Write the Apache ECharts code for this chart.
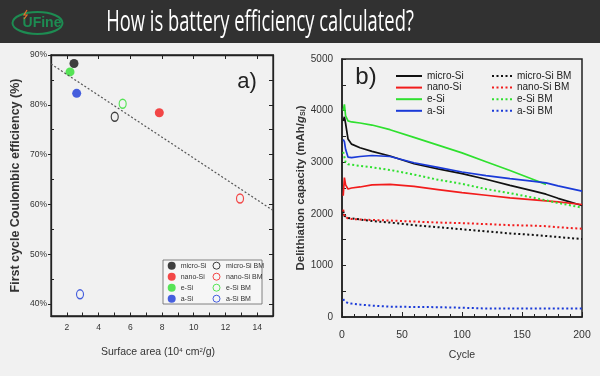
<!DOCTYPE html>
<html>
<head>
<meta charset="utf-8">
<script src="https://cdn.jsdelivr.net/npm/echarts@6/dist/echarts.min.js"></script>
<style>
  html, body { margin: 0; padding: 0; background: #f1f1f1; }
  #main { width: 600px; height: 376px; }
</style>
</head>
<body>
<div id="main"></div>
<script>
// panel a) first cycle efficiency vs surface area
const materials = ['micro-Si', 'nano-Si', 'e-Si', 'a-Si']
const colors = ['#111111', '#f21c1c', '#2fe02f', '#1a3ad8']
const surfaceArea = [2.45, 7.83, 2.2, 2.62]
const firstEff = [88.3, 78.4, 86.6, 82.3]
const surfaceAreaBM = [5.02, 12.92, 5.52, 2.83]
const firstEffBM = [77.6, 61.2, 80.2, 41.95]
const trendX = [1, 15]
const trendY = [88.2, 58.8]
const effTicks = [40, 50, 60, 70, 80, 90]

// panel b) delithiation capacity vs cycle
const cycles = [1, 2, 3, 5, 8, 15, 25, 40, 60, 80, 100, 120, 140, 160, 170, 180, 200]
const microSi = [3800, 3880, 3750, 3450, 3350, 3280, 3210, 3120, 2970, 2870, 2780, 2670, 2550, 2440, 2380, 2300, 2160]
const nanoSi = [2350, 2700, 2560, 2480, 2500, 2520, 2560, 2570, 2530, 2470, 2410, 2360, 2310, 2270, 2250, 2230, 2180]
const eSi = [4000, 4120, 3900, 3800, 3780, 3760, 3720, 3630, 3480, 3330, 3180, 3010, 2840, 2660, 2570, null, null]
const aSi = [3440, 3400, 3250, 3100, 3090, 3110, 3130, 3110, 2990, 2900, 2810, 2740, 2680, 2630, 2600, 2540, 2440]
const microSiBM = [2050, 1960, 1930, 1920, 1910, 1890, 1860, 1830, 1780, 1740, 1700, 1660, 1620, 1590, 1570, 1550, 1510]
const nanoSiBM = [2080, 1950, 1920, 1910, 1900, 1890, 1880, 1870, 1850, 1830, 1820, 1800, 1780, 1770, 1760, 1740, 1710]
const eSiBM = [3200, 3100, 3000, 2960, 2950, 2930, 2900, 2850, 2760, 2660, 2580, 2480, 2400, 2310, 2260, 2210, 2120]
const aSiBM = [350, 310, 290, 270, 260, 240, 220, 200, 195, 190, 180, 165, 165, 163, 163, 163, 163]

const chart = echarts.init(document.getElementById('main'))

const axisCol = '#222'
const pair = (xs, ys) => xs.map((x, i) => [x, ys[i]])

let series = []
// filled dots
materials.forEach((m, i) => {
  series.push({
    name: m, type: 'scatter', xAxisIndex: 0, yAxisIndex: 0,
    symbol: 'circle', symbolSize: 9,
    itemStyle: { color: colors[i] },
    data: [[surfaceArea[i], firstEff[i]]]
  })
})
// open circles
materials.forEach((m, i) => {
  series.push({
    name: m + ' BM', type: 'scatter', xAxisIndex: 0, yAxisIndex: 0,
    symbol: 'circle', symbolSize: [7, 9],
    itemStyle: { color: 'rgba(0,0,0,0)', borderColor: colors[i], borderWidth: 1.3 },
    data: [[surfaceAreaBM[i], firstEffBM[i]]]
  })
})
series.push({
  type: 'line', xAxisIndex: 0, yAxisIndex: 0, silent: true,
  symbol: 'none',
  lineStyle: { color: '#555', width: 1.2, type: [2, 2] },
  data: pair(trendX, trendY)
})

const solid = [microSi, nanoSi, eSi, aSi]
const dotted = [microSiBM, nanoSiBM, eSiBM, aSiBM]
// trailing space keeps panel b names apart from panel a legend entries
materials.forEach((m, i) => {
  series.push({
    name: m + ' ', type: 'line', xAxisIndex: 2, yAxisIndex: 3,
    symbol: 'none',
    lineStyle: { color: colors[i], width: 1.7 },
    itemStyle: { color: colors[i] },
    data: pair(cycles, solid[i])
  })
})
materials.forEach((m, i) => {
  series.push({
    name: m + ' BM ', type: 'line', xAxisIndex: 2, yAxisIndex: 3,
    symbol: 'none',
    lineStyle: { color: colors[i], width: 2, type: [2, 2.5] },
    itemStyle: { color: colors[i] },
    data: pair(cycles, dotted[i])
  })
})

const baseFont = 'Liberation Sans, Arial, sans-serif'
const narrowFont = 'Liberation Sans Narrow, Liberation Sans, Arial, sans-serif'

const option = {
  animation: false,
  backgroundColor: '#f1f1f1',
  textStyle: { fontFamily: baseFont },
  graphic: [
    { type: 'rect', shape: { x: 0, y: 0, width: 600, height: 43 }, style: { fill: '#313131' } },
    { type: 'ellipse', shape: { cx: 37.5, cy: 23, rx: 25, ry: 11 },
      style: { fill: 'none', stroke: '#1d8c52', lineWidth: 2 } },
    { type: 'text', x: 42, y: 23,
      style: { text: 'UFine', fill: '#1d8c52', font: 'bold 14px ' + baseFont, textAlign: 'center', textVerticalAlign: 'middle' } },
    { type: 'polyline', shape: { points: [[27, 10], [24, 15], [27, 15], [24, 19]] },
      style: { stroke: '#e8702a', lineWidth: 1.2, fill: 'none' } },
    { type: 'text', x: 260, y: 22, scaleX: 0.612,
      style: { text: 'How is battery efficiency calculated?', fill: '#ffffff',
        font: '30px "Open Sans", sans-serif', textAlign: 'center', textVerticalAlign: 'middle' } },
    // legend frame of panel a
    { type: 'rect', shape: { x: 163, y: 260, width: 99, height: 44 },
      style: { fill: '#f6f6f6', stroke: '#666', lineWidth: 0.8 } },
    { type: 'text', x: 247, y: 82,
      style: { text: 'a)', fill: '#222', font: '22px ' + baseFont, textAlign: 'center', textVerticalAlign: 'middle' } },
    { type: 'text', x: 366, y: 77,
      style: { text: 'b)', fill: '#222', font: '24px ' + baseFont, textAlign: 'center', textVerticalAlign: 'middle' } }
  ],
  grid: [
    { left: 51, top: 55, width: 222, height: 261, show: true, borderColor: axisCol, borderWidth: 1.3, backgroundColor: 'transparent' },
    { left: 342, top: 59, width: 240, height: 258, show: true, borderColor: axisCol, borderWidth: 1.5, backgroundColor: 'transparent' }
  ],
  legend: [
    { orient: 'vertical', left: 167.7, top: 261.7, padding: 0, itemWidth: 8, itemHeight: 8, itemGap: 3,
      textStyle: { fontSize: 7, color: '#333' },
      data: materials.map(m => ({ name: m, icon: 'circle' })) },
    { orient: 'vertical', left: 212.5, top: 261.7, padding: 0, itemWidth: 7, itemHeight: 8, itemGap: 3,
      itemStyle: { borderWidth: 1 },
      textStyle: { fontSize: 7, color: '#333', padding: [0, 0, 0, 1] },
      data: materials.map(m => ({ name: m + ' BM', icon: 'circle' })) },
    { orient: 'vertical', left: 395, top: 71, padding: 0, itemWidth: 26, itemHeight: 8, itemGap: 1.6,
      itemStyle: { opacity: 0 },
      textStyle: { fontSize: 10, color: '#222', fontFamily: narrowFont },
      data: materials.map(m => m + ' ') },
    { orient: 'vertical', left: 491, top: 71, padding: 0, itemWidth: 20, itemHeight: 8, itemGap: 1.6,
      itemStyle: { opacity: 0 },
      textStyle: { fontSize: 10, color: '#222', fontFamily: narrowFont },
      data: materials.map(m => m + ' BM ') }
  ],
  xAxis: [
    { gridIndex: 0, type: 'value', position: 'bottom', min: 1, max: 15, interval: 1,
      axisLine: { lineStyle: { color: axisCol, width: 1.3 } },
      axisTick: { inside: true, length: 3.5, lineStyle: { color: axisCol } },
      axisLabel: { margin: 7, fontSize: 8.5, color: '#333', formatter: v => (v % 2 === 0 ? v : '') },
      splitLine: { show: false },
      name: 'Surface area (10{sup|4} cm{sup|2}/g)', nameLocation: 'middle', nameGap: 31,
      nameTextStyle: { fontSize: 10.5, color: '#333', padding: [0, 8, 0, 0],
        rich: { sup: { fontSize: 6, verticalAlign: 'top', color: '#333', padding: [0, 0, 5, 0] } } } },
    { gridIndex: 0, type: 'value', position: 'top', min: 1, max: 15,
      axisLine: { lineStyle: { color: axisCol, width: 1.3 } },
      axisTick: { inside: true, length: 4, customValues: [2, 4, 6, 8, 10, 12, 14], lineStyle: { color: axisCol } },
      axisLabel: { show: false }, splitLine: { show: false } },
    { gridIndex: 1, type: 'value', min: 0, max: 200, interval: 50,
      axisLine: { lineStyle: { color: axisCol, width: 1.5 } },
      axisTick: { inside: true, length: 5, lineStyle: { color: axisCol } },
      minorTick: { show: true, splitNumber: 5, length: 3, lineStyle: { color: axisCol } },
      axisLabel: { margin: 13, fontSize: 10.5, color: '#333', fontFamily: narrowFont },
      splitLine: { show: false },
      name: 'Cycle', nameLocation: 'middle', nameGap: 33,
      nameTextStyle: { fontSize: 10.5, color: '#333', fontFamily: narrowFont } }
  ],
  yAxis: [
    { gridIndex: 0, type: 'value', position: 'left', min: 37.6, max: 90,
      axisLine: { lineStyle: { color: axisCol, width: 1.3 } },
      axisTick: { inside: false, length: 3, customValues: effTicks, lineStyle: { color: axisCol } },
      axisLabel: { margin: 4, fontSize: 8.5, color: '#333', customValues: effTicks, formatter: '{value}%' },
      splitLine: { show: false },
      name: 'First cycle Coulombic efficiency (%)', nameLocation: 'middle', nameGap: 29,
      nameTextStyle: { fontSize: 12.5, fontWeight: 'bold', color: '#333' } },
    { gridIndex: 0, type: 'value', position: 'right', min: 37.6, max: 90,
      axisLine: { lineStyle: { color: axisCol, width: 1.3 } },
      axisTick: { inside: true, length: 4, customValues: [40, 45, 50, 55, 60, 65, 70, 75, 80, 85, 90], lineStyle: { color: axisCol } },
      axisLabel: { show: false }, splitLine: { show: false } },
    { gridIndex: 0, type: 'value', position: 'left', min: 37.6, max: 90,
      axisLine: { show: false },
      axisTick: { inside: true, length: 3, customValues: [45, 55, 65, 75, 85], lineStyle: { color: axisCol } },
      axisLabel: { show: false }, splitLine: { show: false } },
    { gridIndex: 1, type: 'value', min: 0, max: 5000, interval: 1000,
      axisLine: { lineStyle: { color: axisCol, width: 1.5 } },
      axisTick: { inside: true, length: 4, lineStyle: { color: axisCol } },
      minorTick: { show: true, splitNumber: 2, length: 4, lineStyle: { color: axisCol } },
      axisLabel: { margin: 9, fontSize: 10, color: '#333', fontFamily: narrowFont, formatter: v => String(v) },
      splitLine: { show: false },
      name: 'Delithiation capacity (mAh/{i|g}{s|Si})', nameLocation: 'middle', nameGap: 32,
      nameTextStyle: { fontSize: 11.5, fontWeight: 'bold', color: '#333',
        rich: { i: { fontSize: 11.5, fontStyle: 'italic', fontWeight: 'bold', color: '#333' },
                s: { fontSize: 7, fontWeight: 'bold', color: '#333', verticalAlign: 'bottom', padding: [4, 0, 0, 0] } } } }
  ],
  series: series
}

chart.setOption(option)
</script>
</body>
</html>
